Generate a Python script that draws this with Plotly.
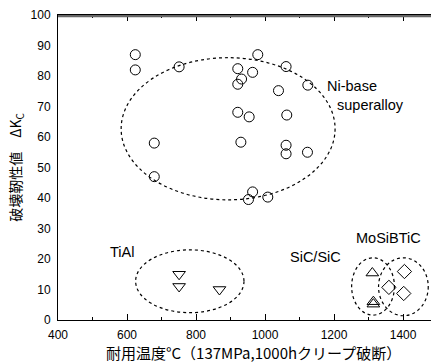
import plotly.graph_objects as go

# Ni-base superalloy
ni_x = [624, 624, 751, 679, 679, 979, 921, 932, 921, 964, 1061, 1039, 1124, 921, 954, 1063, 930, 1061, 1061, 1123, 964, 952, 1008]
ni_y = [87, 82, 83, 58, 47, 87, 82.4, 79, 77.3, 81.2, 83.1, 75.2, 77, 68.1, 66.6, 67.2, 58.3, 57.3, 54.5, 55, 42, 39.5, 40.3]
# TiAl
tial_x = [751, 751, 868]
tial_y = [15, 11, 10]
# SiC/SiC
sic_x = [1311, 1314, 1314]
sic_y = [15.4, 5.2, 6.0]
# MoSiBTiC
mo_x = [1404, 1359, 1402]
mo_y = [15.9, 10.7, 8.7]

# group ellipses: center x, center y, half-width, half-height
ell_cx = [893, 782, 1313, 1401]
ell_cy = [62.7, 12.7, 11, 10.9]
ell_rx = [310, 157, 62, 72]
ell_ry = [23.3, 10.3, 9.4, 9.5]

labels = ["Ni-base", "superalloy", "TiAl", "SiC/SiC", "MoSiBTiC"]
label_x = [1174, 1203, 585, 1145, 1357]
label_y = [76.6, 70.6, 22.3, 20.5, 27]
label_anchor = ["left", "left", "center", "center", "center"]

x_ticks = [400, 600, 800, 1000, 1200, 1400]
y_ticks = [0, 10, 20, 30, 40, 50, 60, 70, 80, 90, 100]

x_title = "耐用温度°C（137MPa,1000hクリープ破断）"
y_title = "破壊靭性値　ΔK<sub>C</sub>"

fig = go.Figure()
fig.add_trace(go.Scatter(x=ni_x, y=ni_y, mode="markers", marker=dict(symbol="circle-open", size=10, color="black", line=dict(width=1))))
fig.add_trace(go.Scatter(x=tial_x, y=tial_y, mode="markers", marker=dict(symbol="triangle-down-open", size=11, color="black", line=dict(width=1))))
fig.add_trace(go.Scatter(x=sic_x, y=sic_y, mode="markers", marker=dict(symbol="triangle-up-open", size=11, color="black", line=dict(width=1))))
fig.add_trace(go.Scatter(x=mo_x, y=mo_y, mode="markers", marker=dict(symbol="diamond-open", size=11, color="black", line=dict(width=1))))

for cx, cy, rx, ry in zip(ell_cx, ell_cy, ell_rx, ell_ry):
    fig.add_shape(type="circle", xref="x", yref="y", x0=cx - rx, x1=cx + rx, y0=cy - ry, y1=cy + ry,
                  line=dict(color="black", width=1.2, dash="dot"))

# grey top frame line (drawn slightly inside the plot top so it is never clipped)
fig.add_shape(type="line", xref="paper", yref="y", x0=0, x1=1, y0=99.7, y1=99.7,
              line=dict(color="#666666", width=2.5), layer="above")

for t, x, y, a in zip(labels, label_x, label_y, label_anchor):
    fig.add_annotation(x=x, y=y, text=t, showarrow=False, xanchor=a, yanchor="middle",
                       font=dict(family="Liberation Sans, Arial", size=14.5, color="black"))

fig.add_annotation(xref="paper", yref="paper", x=(253 - 58) / 373, y=-32 / 305, text=x_title,
                   showarrow=False, xanchor="center", yanchor="middle",
                   font=dict(family="Noto Sans CJK JP", size=15, color="black"))

fig.update_layout(
    width=431, height=362,
    margin=dict(l=58, r=0, t=15, b=42),
    paper_bgcolor="white", plot_bgcolor="white",
    showlegend=False,
    font=dict(family="Liberation Sans, Arial", size=12, color="black"),
    xaxis=dict(range=[400, 1481], tickvals=x_ticks, ticks="inside", ticklen=6, tickcolor="black",
               showline=True, linecolor="black", linewidth=1, showgrid=False, zeroline=False,
               automargin=False, mirror="allticks", ticklabelstandoff=4,
               minor=dict(dtick=100, ticks="inside", ticklen=3, tickcolor="black")),
    yaxis=dict(range=[0, 100], tickvals=y_ticks, ticks="", showline=True, linecolor="black", linewidth=1,
               showgrid=False, zeroline=False, ticklabelstandoff=4, automargin=False,
               title=dict(text=y_title, standoff=5,
                          font=dict(family="Noto Sans CJK JP", size=14))),
)
fig.write_html("out.html", config={"displayModeBar": False},
               post_script="document.body.style.margin='0';document.body.style.overflow='hidden';")
